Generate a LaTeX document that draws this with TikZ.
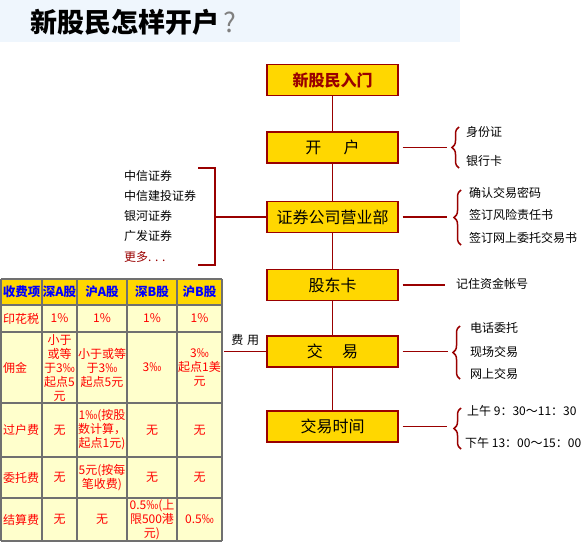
\documentclass[tikz,border=0pt]{standalone}
\usepackage{fontspec}
\setmainfont{Noto Sans CJK SC}
\usepackage{xcolor}
\usepackage{tikz}
\usetikzlibrary{decorations.pathreplacing,positioning}

\definecolor{boxgold}{HTML}{FFD700}
\definecolor{darkred}{HTML}{990000}
\definecolor{cellyellow}{HTML}{FFFFCC}
\definecolor{gridgray}{HTML}{707070}
\definecolor{bandblue}{HTML}{EFF6FD}

\begin{document}
\begin{tikzpicture}[x=1pt, y=-1pt,
  stepbox/.style={draw=darkred, line width=1.2pt, fill=boxgold,
                  minimum width=131pt, minimum height=31pt, inner sep=0pt,
                  font=\fontsize{16}{18}\selectfont},
  link/.style={draw=darkred, line width=1.1pt},
  curly/.style={draw=darkred, line width=1.5pt, decorate,
                decoration={brace, amplitude=7pt}},
  item/.style={anchor=west, inner sep=0pt, font=\fontsize{12}{14}\selectfont},
  head/.style={text=blue, inner sep=0pt, font=\fontsize{12.5}{14}\selectfont\bfseries},
  cell/.style={text=red, align=center, inner sep=0pt, font=\fontsize{12}{14}\selectfont},
  rowlabel/.style={cell, anchor=west},
  tabline/.style={draw=gridgray, line width=1.6pt}
]
  \useasboundingbox (0,0) rectangle (583,546);

  % title band
  \fill[bandblue] (0,0) rectangle (460,42);
  \node[anchor=west, inner sep=0pt] (title) at (30,22)
    {\fontsize{27}{30}\selectfont\bfseries 新股民怎样开户{\mdseries\color{gray}\,?}};

  % main steps
  \node[stepbox, text=darkred, font=\fontsize{16}{18}\selectfont\bfseries] (entry) at (332.5,80) {新股民入门};
  \node[stepbox] (open)   at (332.5,147.5) {开\hspace{1.4em}户};
  \node[stepbox] (broker) at (332.5,217)   {证券公司营业部};
  \node[stepbox] (card)   at (332.5,285)   {股东卡};
  \node[stepbox] (trade)  at (332.5,351.5) {交\hspace{1.2em}易};
  \node[stepbox] (hours)  at (332.5,426.5) {交易时间};
  \draw[link] (entry) -- (open);
  \draw[link] (open) -- (broker);
  \draw[link] (broker) -- (card);
  \draw[link] (card) -- (trade);
  \draw[link] (trade) -- (hours);

  % open account
  \coordinate (openR) at (447,147.5);
  \draw[link, shorten <=4pt] (open.east) -- (openR);
  \draw[curly] (459,168) -- (459,127);
  \node[item] (idcard)   at (466,132) {身份证};
  \node[item] (bankcard) at (466,161) {银行卡};

  % broker office
  \coordinate (brokerR) at (447,217);
  \draw[link, shorten <=4pt] (broker.east) -- (brokerR);
  \draw[curly] (461,245) -- (461,190);
  \node[item] (pwd)    at (469,193) {确认交易密码};
  \node[item] (risk)   at (469,215) {签订风险责任书};
  \node[item] (online) at (469,238) {签订网上委托交易书};

  \coordinate (brkM) at (215,217);
  \coordinate (brkT) at (198,168);
  \coordinate (brkB) at (198,265);
  \draw[link] (broker.west) -- (brkM);
  \draw[link] (brkT) -- (215,168) -- (215,265) -- (brkB);
  \node[item] (citic)    at (124,176) {中信证券};
  \node[item] (csc)      at (124,196) {中信建投证券};
  \node[item] (galaxy)   at (124,216) {银河证券};
  \node[item] (gf)       at (124,236) {广发证券};
  \node[item, text=darkred] (more) at (124,257) {更多. . .};

  % shareholder card
  \coordinate (cardR) at (445,285);
  \draw[link, shorten <=4pt] (card.east) -- (cardR);
  \node[item] (account) at (456,284) {记住资金帐号};

  % trading
  \coordinate (tradeR) at (448,351.5);
  \draw[link, shorten <=4pt] (trade.east) -- (tradeR);
  \draw[curly] (460,379) -- (460,326);
  \node[item] (phone) at (470,328) {电话委托};
  \node[item] (desk)  at (470,352) {现场交易};
  \node[item] (web)   at (470,374) {网上交易};

  \coordinate (tabR) at (224,351.5);
  \draw[link] (tabR) -- node[above=2pt, font=\fontsize{12}{14}\selectfont]{费\hspace{0.3em}用} (trade.west);

  % trading hours
  \coordinate (hoursR) at (447,426.5);
  \draw[link, shorten <=4pt] (hours.east) -- (hoursR);
  \draw[curly] (461,449) -- (461,408);
  \node[item] (am) at (467,411) {上午 9：30～11：30};
  \node[item] (pm) at (465,443) {下午 13：00～15：00};

  % fee table
  \fill[boxgold] (1,279) rectangle (222,305);
  \fill[cellyellow] (1,305) rectangle (222,541);
  \draw[tabline] (1,279) -- (1,541) (42,279) -- (42,541) (77,279) -- (77,541)
                 (127,279) -- (127,541) (177,279) -- (177,541) (222,279) -- (222,541);
  \draw[tabline] (1,279) -- (222,279) (1,305) -- (222,305) (1,332) -- (222,332)
                 (1,403) -- (222,403) (1,457) -- (222,457) (1,498) -- (222,498)
                 (1,541) -- (222,541);

  \node[head] (hItem) at (21.5,292) {收费项};
  \node[head] (hSZA)  at (59.5,292) {深A股};
  \node[head] (hSHA)  at (102,292)  {沪A股};
  \node[head] (hSZB)  at (152,292)  {深B股};
  \node[head] (hSHB)  at (199.5,292) {沪B股};

  \node[rowlabel] (stamp) at (3,318.5) {印花税};
  \node[cell] (stampSZA) at (59.5,318.5)  {1\%};
  \node[cell] (stampSHA) at (102,318.5)   {1\%};
  \node[cell] (stampSZB) at (152,318.5)   {1\%};
  \node[cell] (stampSHB) at (199.5,318.5) {1\%};

  \node[rowlabel] (comm) at (3,367.5) {佣金};
  \node[cell] (commSZA) at (59.5,367.5)  {小于\\或等\\于3‰\\起点5\\元};
  \node[cell] (commSHA) at (102,367.5)   {小于或等\\于3‰\\起点5元};
  \node[cell] (commSZB) at (152,367.5)   {3‰};
  \node[cell] (commSHB) at (199.5,367.5) {3‰\\起点1美\\元};

  \node[rowlabel] (transfer) at (3,430) {过户费};
  \node[cell] (transferSZA) at (59.5,430)  {无};
  \node[cell] (transferSHA) at (102,430)   {1‰(按股\\数计算，\\起点1元)};
  \node[cell] (transferSZB) at (152,430)   {无};
  \node[cell] (transferSHB) at (199.5,430) {无};

  \node[rowlabel] (order) at (3,477.5) {委托费};
  \node[cell] (orderSZA) at (59.5,477.5)  {无};
  \node[cell] (orderSHA) at (102,477.5)   {5元(按每\\笔收费)};
  \node[cell] (orderSZB) at (152,477.5)   {无};
  \node[cell] (orderSHB) at (199.5,477.5) {无};

  \node[rowlabel] (settle) at (3,519.5) {结算费};
  \node[cell] (settleSZA) at (59.5,519.5)  {无};
  \node[cell] (settleSHA) at (102,519.5)   {无};
  \node[cell] (settleSZB) at (152,519.5)   {0.5‰(上\\限500港\\元)};
  \node[cell] (settleSHB) at (199.5,519.5) {0.5‰};
\end{tikzpicture}
\end{document}
